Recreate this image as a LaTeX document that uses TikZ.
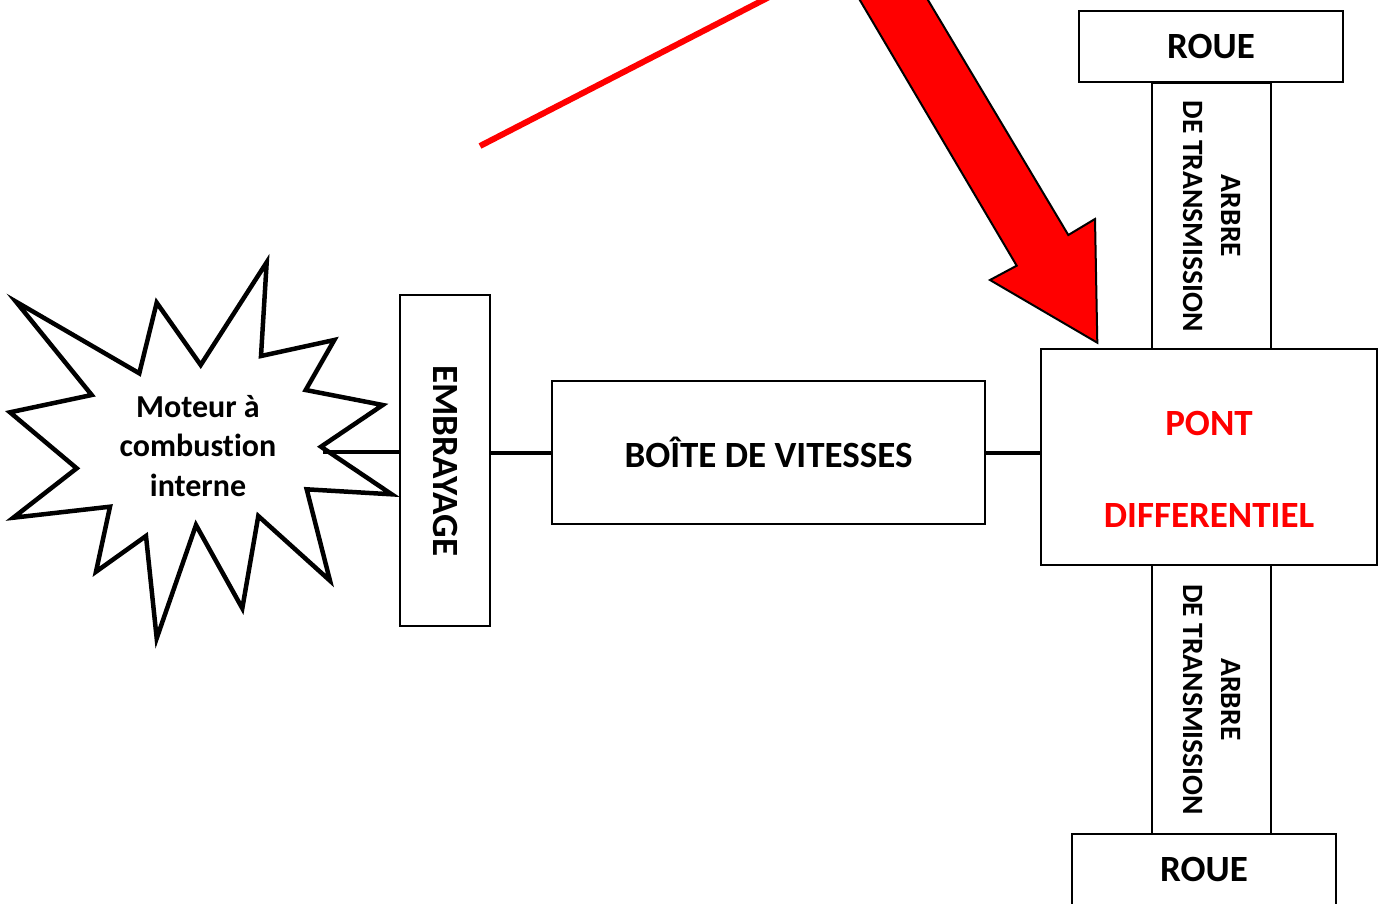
\documentclass[tikz,border=0pt]{standalone}
\usepackage{fontspec}
\setmainfont{Carlito}[Ligatures=NoCommon]
\usetikzlibrary{positioning}
\definecolor{vif}{HTML}{FF0000}
\tikzset{
  box/.style={draw,line width=2pt,inner sep=0pt},
  link/.style={line width=4pt},
  lbl/.style={font=\bfseries\fontsize{37}{45}\selectfont},
  vlbl/.style={rotate=-90,align=center,font=\bfseries\fontsize{29.5}{38}\selectfont},
}

\begin{document}
\begin{tikzpicture}[x=1pt,y=-1pt]
        \clip (0,0) rectangle (1386,903);
        % moteur (etoile)
        \draw[line width=4.5pt] (16,301.7)--(139.3,373.3)--(156.7,302.7)--(200.7,365)--(266.7,262.3)--(261,356)
          --(334.3,340)--(305.7,390)--(382.7,405)--(321,446.7)--(391.7,494.3)--(306.7,489.3)
          --(330,580.7)--(258.3,516)--(242.3,608.3)--(196,525)--(156.7,638.3)--(146,536)
          --(96,571.7)--(110,506.7)--(13.3,517.7)--(76.7,468.3)--(10,412.3)--(91.7,395)--cycle;
        \node[align=center,font=\bfseries\fontsize{32}{39.5}\selectfont] (moteur) at (198,446) {Moteur à\\combustion\\interne};
        \coordinate (mout) at (323,452);
        % chaine de transmission
        \node[box,minimum width=90,minimum height=331] (embr) at (445,460.5) {};
        \node[vlbl,font=\bfseries\fontsize{37}{44}\selectfont] (embrtxt) at (embr) {EMBRAYAGE};
        \node[box,lbl,minimum width=433,minimum height=143] (boite) at (768.5,452.5) {BOÎTE DE VITESSES};
        \node[box,minimum width=336,minimum height=216] (pont) at (1209,457) {};
        \node[lbl,text=vif,align=center,font=\bfseries\fontsize{37}{92}\selectfont] (ponttxt) at (1209,469) {PONT\\DIFFERENTIEL};
        \node[box,minimum width=119,minimum height=266] (arbreh) at (1211.5,216) {};
        \node[vlbl] (arbrehtxt) at (arbreh) {ARBRE\\DE TRANSMISSION};
        \node[box,minimum width=119,minimum height=269] (arbreb) at (1211.5,699.5) {};
        \node[vlbl] (arbrebtxt) at (arbreb) {ARBRE\\DE TRANSMISSION};
        \node[box,lbl,minimum width=264,minimum height=71] (roueh) at (1211,46.5) {ROUE};
        \node[box,lbl,minimum width=264,minimum height=71] (roueb) at (1204,869.5) {ROUE};
        \draw[link] (mout) -- (mout -| embr.west);
        \draw[link] (embr.east |- boite.west) -- (boite.west);
        \draw[link] (boite.east) -- (boite.east -| pont.west);
        % fleche rouge
        \draw[line width=2pt,fill=vif] (848,-20)--(1016.7,265.7)--(990,280)--(1097.3,342.7)--(1095,219)--(1068.3,235)--(916,-20)--cycle;
        \draw[vif,line width=6pt] (480,146) -- (775,-6);
      \end{tikzpicture}
\end{document}
